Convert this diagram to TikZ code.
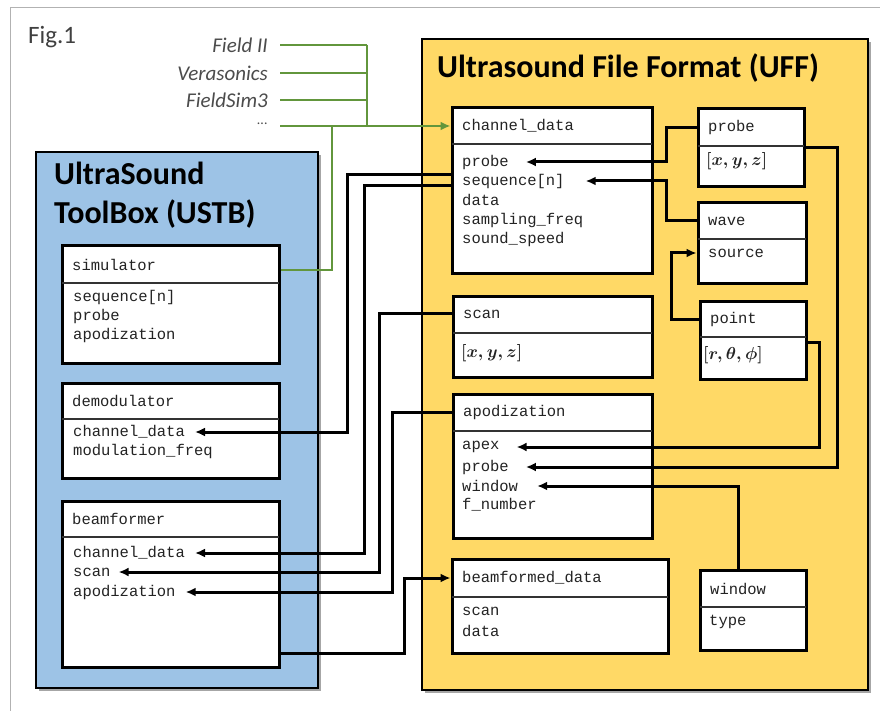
\documentclass[tikz,border=0pt]{standalone}
\usepackage{fontspec}
\setmainfont{Carlito}
\newfontfamily\monof{Liberation Mono}
\usetikzlibrary{arrows.meta}
\definecolor{ublue}{RGB}{157,195,230}
\definecolor{uyellow}{RGB}{255,217,102}
\definecolor{ugreen}{RGB}{98,150,60}
\definecolor{utext}{RGB}{35,35,35}
\newcommand\ubox[7]{%
  \node[cbox, minimum width={#4-#2}, minimum height={#5-#3}] (#1) at ({(#2+#4)/2},{(#3+#5)/2}) {};
  \draw[divl] (#2,#6) -- (#4,#6);
  \node[mono] (#1-h) at ({#2+9},{(#3+#6)/2}) {#7};
}
\begin{document}
\begin{tikzpicture}[x=1pt,y=-1pt,
  cbox/.style={draw=black, fill=white, line width=3pt, inner sep=0pt},
  divl/.style={line width=1.4pt, draw=black!80},
  mono/.style={font=\monof\fontsize{15.5}{18}\selectfont, anchor=west, inner sep=1pt, text=utext},
  mathl/.style={mono, font=\fontsize{17}{20}\selectfont\boldmath},
  group/.style={draw=black, line width=2.4pt},
  title/.style={font=\bfseries\fontsize{32}{38}\selectfont, anchor=base west, inner sep=0pt},
  glab/.style={font=\itshape\fontsize{21}{24}\selectfont, anchor=east, inner sep=0pt, text=black!70},
  conn/.style={line width=3pt, draw=black, line join=miter},
  gconn/.style={line width=2.8pt, draw=ugreen},
  tip/.style={-{Latex[length=10pt,width=9pt]}},
]
\useasboundingbox (0,0) rectangle (880,711);
\fill[white] (0,0) rectangle (880,711);
\draw[gray!60, line width=1pt] (10,711) -- (10,8) -- (880,8);
\node[anchor=base west, inner sep=0pt, font=\fontsize{25}{30}\selectfont, text=black!75] (fig) at (28,44) {Fig.1};

% group boxes (with a faint shadow)
\fill[black!35] (39,155) rectangle (321,691);
\fill[black!35] (425,42) rectangle (871,693);
\node[group, fill=ublue, minimum width=282, minimum height=536, inner sep=0pt] (ustb) at (177,420) {};
\node[group, fill=uyellow, minimum width=446, minimum height=651, inner sep=0pt] (uff) at (645,364.5) {};
\node[title] (ustbt1) at (54,185) {UltraSound};
\node[title] (ustbt2) at (54,224) {ToolBox (USTB)};
\node[title] (ufft) at (437,78) {Ultrasound File Format (UFF)};

% green inputs
\node[glab] (f1) at (268,45) {Field II};
\node[glab] (f2) at (268,73) {Verasonics};
\node[glab] (f3) at (268,100) {FieldSim3};
\node[glab, font=\itshape\fontsize{14}{16}\selectfont] (f4) at (268,124) {...};

% USTB boxes
\ubox{sim}{62}{246}{279}{363}{283}{simulator}
\node[mono] (sim-1) at (72,297) {sequence[n]};
\node[mono] (sim-2) at (72,316) {probe};
\node[mono] (sim-3) at (72,335) {apodization};

\ubox{dem}{62}{383}{279}{478}{419}{demodulator}
\node[mono] (dem-1) at (72,432) {channel\_data};
\node[mono] (dem-2) at (72,451) {modulation\_freq};

\ubox{bf}{62}{501}{279}{667}{537}{beamformer}
\node[mono] (bf-1) at (72,553) {channel\_data};
\node[mono] (bf-2) at (72,572) {scan};
\node[mono] (bf-3) at (72,592) {apodization};

% UFF boxes
\ubox{cd}{452}{108}{652}{273}{144}{channel\_data}
\node[mono] (cd-1) at (461,162) {probe};
\node[mono] (cd-2) at (461,181) {sequence[n]};
\node[mono] (cd-3) at (461,200) {data};
\node[mono] (cd-4) at (461,220) {sampling\_freq};
\node[mono] (cd-5) at (461,239) {sound\_speed};

\ubox{sc}{453}{296}{652}{377}{333}{scan}
\node[mathl] (sc-1) at (460,353) {$[x,y,z]$};

\ubox{ap}{453}{394}{652}{538}{431}{apodization}
\node[mono] (ap-1) at (461,447) {apex};
\node[mono] (ap-2) at (461,467) {probe};
\node[mono] (ap-3) at (461,486) {window};
\node[mono] (ap-4) at (461,505) {f\_number};

\ubox{bd}{452}{559}{668}{653}{597}{beamformed\_data}
\node[mono] (bd-1) at (461,611) {scan};
\node[mono] (bd-2) at (461,631) {data};

\ubox{pr}{698}{109}{804}{187}{146}{probe}
\node[mathl] (pr-1) at (705,161) {$[x,y,z]$};

\ubox{wv}{698}{203}{806}{283}{239}{wave}
\node[mono] (wv-1) at (707,253) {source};

\ubox{pt}{700}{301}{806}{379}{337}{point}
\node[mathl] (pt-1) at (702,355) {$[r,\theta,\phi]$};

\ubox{wn}{700}{570}{806}{650}{607}{window}
\node[mono] (wn-1) at (708,622) {type};

% green connectors
\draw[gconn] ([xshift=12pt]f1.east) -- (367,45);
\draw[gconn] ([xshift=12pt]f2.east) -- (367,73);
\draw[gconn] ([xshift=12pt]f3.east) -- (367,100);
\draw[gconn] (367,45) -- (367,126);
\draw[gconn, tip] ([xshift=12pt]f4.east |- 0,126) -- (cd.west |- 0,126);
\draw[gconn] (sim.east |- 0,270) -- (332,270) -- (332,126);

% black connectors
\draw[conn, tip] (cd.west |- 0,175) -- (347,175) |- ([xshift=9pt]dem-1.east);
\draw[conn, tip] (cd.west |- 0,186) -- (364,186) |- ([xshift=9pt]bf-1.east);
\draw[conn, tip] (sc.west |- 0,313) -- (379,313) |- ([xshift=7pt]bf-2.east);
\draw[conn, tip] (ap.west |- 0,412) -- (392,412) |- ([xshift=9pt]bf-3.east);
\draw[conn, tip] (bf.east |- 0,653) -- (404,653) |- (bd.west |- bd-h);
\draw[conn, tip] (pr.west |- pr-h) -- ++(-30,0) |- ([xshift=16pt]cd-1.east);
\draw[conn, tip] (wv.west |- wv-h) -- ++(-30,0) |- ([xshift=20pt]cd-2.east);
\draw[conn, tip] (pt.west |- pt-h) -- ++(-27,0) |- (wv.west |- wv-1);
\draw[conn, tip] (pr.east |- 0,148) -- (837,148) |- ([xshift=16pt]ap-2.east);
\draw[conn, tip] (pt.east |- 0,342) -- (819,342) |- ([xshift=16pt]ap-1.east);
\draw[conn, tip] ([xshift=-15pt]wn.north) |- ([xshift=18pt]ap-3.east);
\end{tikzpicture}
\end{document}
